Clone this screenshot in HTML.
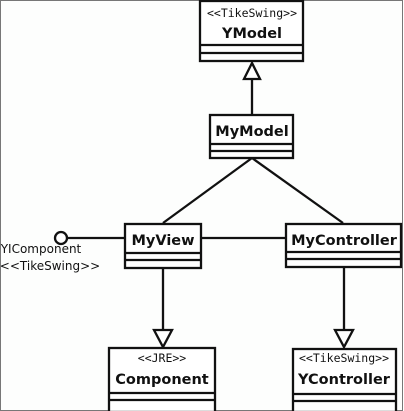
<!DOCTYPE html>
<html><head><style>
body{margin:0;background:#fff;}
svg{display:block;}
text{font-family:"DejaVu Sans","Liberation Sans",sans-serif;}
.b{font-weight:bold;font-size:14.5px;}
.s{font-family:"DejaVu Sans Mono","Liberation Mono",monospace;font-size:11.5px;}
</style></head><body>
<svg width="404" height="411" viewBox="0 0 404 411">
<rect x="0.5" y="0.5" width="402" height="410" fill="#fdfefd" stroke="#777" stroke-width="1"/>
<g stroke="#111" stroke-width="2.3" fill="none">
<rect x="200" y="1" width="103" height="60" fill="#fff"/>
<line x1="200" y1="45" x2="303" y2="45"/><line x1="200" y1="53" x2="303" y2="53"/>
<polygon points="252,63 244,79 260,79" fill="#fff"/>
<line x1="252" y1="79" x2="252" y2="115"/>
<rect x="210" y="115" width="83" height="43" fill="#fff"/>
<line x1="210" y1="144" x2="293" y2="144"/><line x1="210" y1="151" x2="293" y2="151"/>
<line x1="252" y1="158" x2="163" y2="223"/><line x1="252" y1="158" x2="343" y2="223"/>
<rect x="125" y="224" width="76" height="44" fill="#fff"/>
<line x1="125" y1="253" x2="201" y2="253"/><line x1="125" y1="260" x2="201" y2="260"/>
<rect x="286" y="224" width="115" height="43" fill="#fff"/>
<line x1="286" y1="252" x2="401" y2="252"/><line x1="286" y1="259" x2="401" y2="259"/>
<circle cx="61" cy="238" r="6" fill="#fff"/>
<line x1="67" y1="238" x2="125" y2="238"/>
<line x1="201" y1="238" x2="286" y2="238"/>
<line x1="163" y1="268" x2="163" y2="330"/>
<polygon points="154,330 172,330 163,347" fill="#fff"/>
<line x1="344" y1="267" x2="344" y2="330"/>
<polygon points="335,330 353,330 344,347" fill="#fff"/>
<rect x="109" y="348" width="106" height="64" fill="#fff"/>
<line x1="109" y1="393" x2="215" y2="393"/><line x1="109" y1="400" x2="215" y2="400"/>
<rect x="293" y="349" width="103" height="63" fill="#fff"/>
<line x1="293" y1="394" x2="396" y2="394"/><line x1="293" y1="401" x2="396" y2="401"/>
</g>
<g fill="#111" text-anchor="middle">
<text class="s" x="252" y="17">&lt;&lt;TikeSwing&gt;&gt;</text>
<text class="b" x="252" y="38">YModel</text>
<text class="b" x="252" y="136">MyModel</text>
<text class="b" x="163" y="245">MyView</text>
<text class="b" x="344" y="245">MyController</text>
<text class="s" x="162" y="362">&lt;&lt;JRE&gt;&gt;</text>
<text class="b" x="162" y="384">Component</text>
<text class="s" x="344" y="362">&lt;&lt;TikeSwing&gt;&gt;</text>
<text class="b" x="344" y="384">YController</text>
<text x="41" y="253" font-size="12">YIComponent</text>
<text x="50" y="270" font-size="12">&lt;&lt;TikeSwing&gt;&gt;</text>
</g>
</svg>
</body></html>
